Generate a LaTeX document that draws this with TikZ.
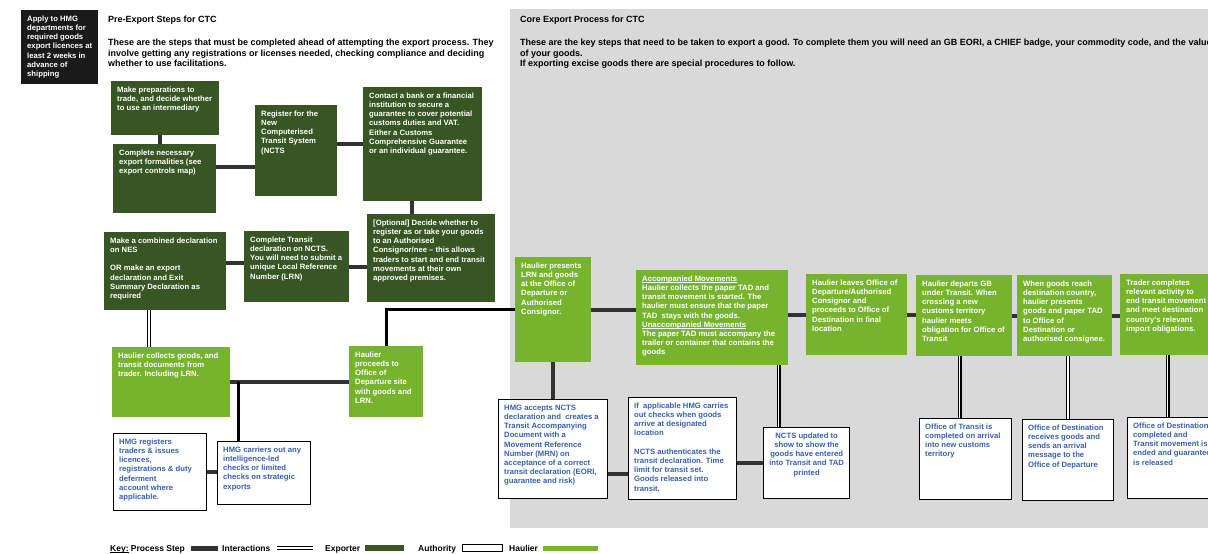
\documentclass[tikz,border=0pt]{standalone}
\usepackage{fontspec}
\setmainfont{Liberation Sans}
\definecolor{expgreen}{RGB}{55,86,35}
\definecolor{haulgreen}{RGB}{119,180,46}
\definecolor{bggray}{RGB}{217,217,217}
\definecolor{authblue}{RGB}{56,96,176}
\definecolor{procgray}{RGB}{50,50,50}
\definecolor{blackbox}{RGB}{26,26,26}
\newcommand\boxfont{\fontsize{7.7}{9.2}\selectfont\bfseries}
\newcommand\headfont{\fontsize{9}{10.4}\selectfont\bfseries}
\newcommand\keyfont{\fontsize{8.5}{10}\selectfont\bfseries}
\newcommand\ulx[1]{\setbox0\hbox{#1}\rlap{\rule[-1.3pt]{\wd0}{0.5pt}}\box0\relax}
% name, x, y, w, h, box style, text style, text
\newcommand\bx[8]{%
  \node[#6, anchor=north west, minimum width=#4pt, minimum height=#5pt, inner sep=0pt] (#1) at (#2,#3) {};
  \node[#7, anchor=north west] (#1t) at ([xshift=6pt,yshift=-5pt]#1.north west) {\rule{0pt}{6pt}#8};
}
\tikzset{
  exp/.style={fill=expgreen, draw=none},
  haul/.style={fill=haulgreen, draw=none},
  auth/.style={fill=white, draw=black, line width=1.3pt},
  blkbx/.style={fill=blackbox, draw=none},
  wtxt/.style={text=white, font=\boxfont, align=left, inner sep=0pt},
  btxt/.style={text=authblue, font=\boxfont, align=left, inner sep=0pt},
  proc/.style={draw=procgray, line width=4pt},
  blk/.style={draw=black, line width=3pt},
  inter/.style={draw=black, double=white, line width=1.1pt, double distance=1.6pt},
  head/.style={font=\headfont, align=left, inner sep=0pt},
  keytxt/.style={font=\keyfont, inner sep=0pt, anchor=base west},
}
\begin{document}
\begin{tikzpicture}[x=1pt,y=-1pt]
\useasboundingbox (0,0) rectangle (1208,554);
% core process background
\fill[bggray] (510,9) rectangle (1208,528);

% headings
\node[head, anchor=base west] (pretitle) at (108,22.5) {Pre-Export Steps for CTC};
\node[head, anchor=north west] (pretext) at (108,38) {\rule{0pt}{7.5pt}These are the steps that must be completed ahead of attempting the export process. They\\involve getting any registrations or licenses needed, checking compliance and deciding\\whether to use facilitations.};
\node[head, anchor=base west] (coretitle) at (520,22.5) {Core Export Process for CTC};
\node[head, anchor=north west] (coretext) at (520,38) {\rule{0pt}{7.5pt}These are the key steps that need to be taken to export a good. To complete them you will need an GB EORI, a CHIEF badge, your commodity code, and the value\\of your goods.\\If exporting excise goods there are special procedures to follow.};

% black box
\bx{apply}{21}{10}{77}{74}{blkbx}{wtxt}{Apply to HMG\\departments for\\required goods\\export licences at\\least 2 weeks in\\advance of\\shipping}

% exporter boxes
\bx{mp}{111}{81}{108}{54}{exp}{wtxt}{Make preparations to\\trade, and decide whether\\to use an intermediary}
\bx{cn}{113}{144}{103}{69}{exp}{wtxt}{Complete necessary\\export formalities (see\\export controls map)}
\bx{reg}{255}{105}{82}{91}{exp}{wtxt}{Register for the\\New\\Computerised\\Transit System\\(NCTS}
\bx{con}{363}{87}{119}{114}{exp}{wtxt}{Contact a bank or a financial\\institution to secure a\\guarantee to cover potential\\customs duties and VAT.\\Either a Customs\\Comprehensive Guarantee\\or an individual guarantee.}
\bx{cd}{104}{232}{122}{78}{exp}{wtxt}{Make a combined declaration\\on NES\\[9.2pt]OR make an export\\declaration and Exit\\Summary Declaration as\\required}
\bx{ct}{244}{231}{105}{71}{exp}{wtxt}{Complete Transit\\declaration on NCTS.\\You will need to submit a\\unique Local Reference\\Number (LRN)}
\bx{opt}{367}{214}{128}{88}{exp}{wtxt}{[Optional] Decide whether to\\register as or take your goods\\to an Authorised\\Consignor/nee – this allows\\traders to start and end transit\\movements at their own\\approved premises.}

% haulier boxes (pre-export)
\bx{hc}{112}{347}{118}{70}{haul}{wtxt}{Haulier collects goods, and\\transit documents from\\trader. Including LRN.}
\bx{hpr}{349}{346}{74}{71}{haul}{wtxt}{Haulier\\proceeds to\\Office of\\Departure site\\with goods and\\LRN.}

% authority boxes (pre-export)
\bx{hr}{113}{433}{93}{77}{auth}{btxt}{HMG registers\\traders \& issues\\licences,\\registrations \& duty\\deferment\\account where\\applicable.}
\bx{hmgc}{217}{441}{93}{63}{auth}{btxt}{HMG carriers out any\\intelligence-led\\checks or limited\\checks on strategic\\exports}

% core haulier boxes
\bx{hpres}{515}{257}{76}{105}{haul}{wtxt}{Haulier presents\\LRN and goods\\at the Office of\\Departure or\\Authorised\\Consignor.}
\bx{acc}{636}{270}{152}{95}{haul}{wtxt}{\ulx{Accompanied Movements}\\Haulier collects the paper TAD and\\transit movement is started. The\\haulier must ensure that the paper\\TAD\ \ stays with the goods.\\\ulx{Unaccompanied Movements}\\The paper TAD must accompany the\\trailer or container that contains the\\goods}
\bx{hl}{806}{274}{101}{81}{haul}{wtxt}{Haulier leaves Office of\\Departure/Authorised\\Consignor and\\proceeds to Office of\\Destination in final\\location}
\bx{hd}{916}{275}{96}{81}{haul}{wtxt}{Haulier departs GB\\under Transit. When\\crossing a new\\customs territory\\haulier meets\\obligation for Office of\\Transit}
\bx{wg}{1017}{275}{95}{81}{haul}{wtxt}{When goods reach\\destination country,\\haulier presents\\goods and paper TAD\\to Office of\\Destination or\\authorised consignee.}
\bx{tr}{1120}{274}{94}{81}{haul}{wtxt}{Trader completes\\relevant activity to\\end transit movement\\and meet destination\\country's relevant\\import obligations.}

% core authority boxes
\bx{hacc}{498}{399}{109}{99}{auth}{btxt}{HMG accepts NCTS\\declaration and\ \ creates a\\Transit Accompanying\\Document with a\\Movement Reference\\Number (MRN) on\\acceptance of a correct\\transit declaration (EORI,\\guarantee and risk)}
\bx{ifa}{628}{397}{108}{102}{auth}{btxt}{If\ \ applicable HMG carries\\out checks when goods\\arrive at designated\\location\\[9.2pt]NCTS authenticates the\\transit declaration. Time\\limit for transit set.\\Goods released into\\transit.}
\node[auth, anchor=north west, minimum width=86pt, minimum height=71pt, inner sep=0pt] (nu) at (763,427) {};
\node[btxt, align=center, anchor=north] (nut) at ([yshift=-5pt]nu.north) {\rule{0pt}{6pt}NCTS updated to\\show to show the\\goods have entered\\into Transit and TAD\\printed};
\bx{ot}{919}{418}{92}{81}{auth}{btxt}{Office of Transit is\\completed on arrival\\into new customs\\territory}
\bx{od}{1022}{419}{91}{81}{auth}{btxt}{Office of Destination\\receives goods and\\sends an arrival\\message to the\\Office of Departure}
\bx{odc}{1127}{417}{100}{81}{auth}{btxt}{Office of Destination\\completed and\\Transit movement is\\ended and guarantee\\is released}

% connectors: pre-export
\draw[proc] ([xshift=-5pt]mp.south) -- ([xshift=-5pt]mp.south |- cn.north);
\draw[proc] ([yshift=11.5pt]cn.east) -- ([yshift=11.5pt]cn.east -| reg.west);
\draw[proc] (reg.east |- con.west) -- (con.west);
\draw[proc] ([xshift=-10.5pt]con.south) -- ([xshift=-10.5pt]con.south |- opt.north);
\draw[proc] ([yshift=3.5pt]ct.west -| cd.east) -- ([yshift=3.5pt]ct.west);
\draw[proc] (ct.east) -- (ct.east -| opt.west);
\draw[inter] ([xshift=-16pt]cd.south) -- ([xshift=-16pt]cd.south |- hc.north);
\draw[proc] (hc.east) -- (hc.east -| hpr.west);
\coordinate (j1) at ([xshift=8pt]hc.east);
\draw[blk] (j1) -- (j1 |- hmgc.north);
\draw[proc] (hr.east) -- (hr.east -| hmgc.west);
\draw[blk] (hpr.north) |- (hpres.west);

% connectors: core
\draw[proc] (hpres.east) -- (hpres.east -| acc.west);
\draw[proc] (acc.east |- hl.west) -- (hl.west);
\draw[proc] (hl.east) -- (hl.east -| hd.west);
\draw[proc] (hd.east) -- (hd.east -| wg.west);
\draw[proc] (wg.east) -- (wg.east -| tr.west);
\draw[proc] (hpres.south) -- (hpres.south |- hacc.north);
\draw[proc] ([yshift=-24.5pt]hacc.east) -- ([yshift=-24.5pt]hacc.east -| ifa.west);
\draw[proc] (nu.west -| ifa.east) -- (nu.west);
\draw[inter] ([xshift=-28pt]nu.north) -- ([xshift=-28pt]nu.north |- acc.south);
\draw[inter] ([xshift=-6pt]ot.north) -- ([xshift=-6pt]ot.north |- hd.south);
\draw[inter] (od.north) -- (od.north |- wg.south);
\draw[inter] ([xshift=-10pt]odc.north) -- ([xshift=-10pt]odc.north |- tr.south);

% key
\node[keytxt] (k1) at (110,551.5) {\ulx{Key:} Process Step};
\node[fill=procgray, minimum width=27pt, minimum height=5pt, inner sep=0pt, anchor=west] (kproc) at (191,548) {};
\node[keytxt] (k2) at (222,551.5) {Interactions};
\coordinate (kia) at (277,548);
\coordinate (kib) at (313,548);
\draw[inter] (kia) -- (kib);
\node[keytxt] (k3) at (325,551.5) {Exporter};
\node[fill=expgreen, minimum width=39pt, minimum height=6pt, inner sep=0pt, anchor=west] (kexp) at (365,548) {};
\node[keytxt] (k4) at (418,551.5) {Authority};
\node[draw=black, line width=0.9pt, fill=white, minimum width=40pt, minimum height=6.5pt, inner sep=0pt, anchor=west] (kauth) at (462,548) {};
\node[keytxt] (k5) at (509,551.5) {Haulier};
\node[fill=haulgreen, minimum width=55pt, minimum height=5pt, inner sep=0pt, anchor=west] (khaul) at (543,548) {};
\end{tikzpicture}
\end{document}
